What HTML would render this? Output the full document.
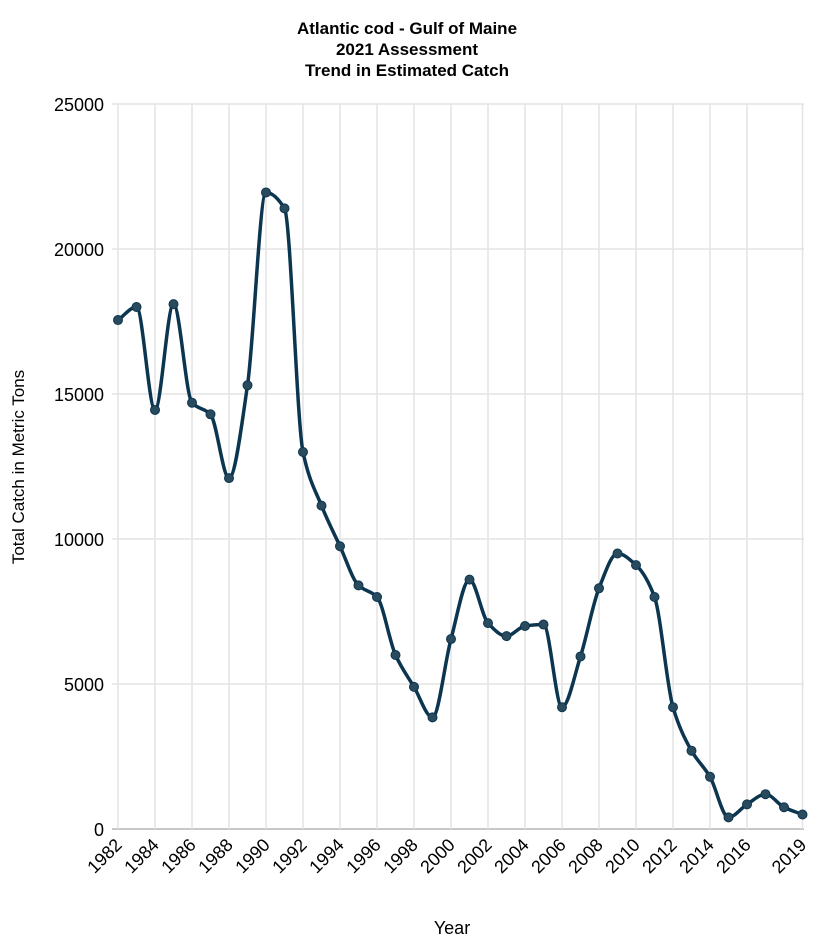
<!DOCTYPE html>
<html><head><meta charset="utf-8"><style>
body{margin:0;background:#fff;}
svg{display:block;font-family:"Liberation Sans",Arial,sans-serif;}
</style></head><body>
<svg id="s" width="813" height="947" xmlns="http://www.w3.org/2000/svg">
<text x="407" y="34" text-anchor="middle" font-size="17" font-weight="bold">Atlantic cod - Gulf of Maine</text>
<text x="407" y="55" text-anchor="middle" font-size="17" font-weight="bold">2021 Assessment</text>
<text x="407" y="76" text-anchor="middle" font-size="17" font-weight="bold">Trend in Estimated Catch</text>
<text x="452" y="934" text-anchor="middle" font-size="18">Year</text>
<text transform="translate(24,467) rotate(-90)" text-anchor="middle" font-size="17">Total Catch in Metric Tons</text>
<g id="g"></g>
</svg>
<script>
var s=document.getElementById('g'),h='';
var X0=118,DX=18.5,Y0=829,K=725/25000;
function X(y){return X0+(y-1982)*DX}function Y(v){return Y0-v*K}
for(var v=0;v<=25000;v+=5000){h+='<line x1="112" x2="804" y1="'+Y(v)+'" y2="'+Y(v)+'" stroke="'+(v?'#e3e3e3':'#c8c8c8')+'" stroke-width="'+(v?1.5:2)+'"/>';
h+='<text x="104" y="'+(Y(v)+7)+'" text-anchor="end" font-size="18">'+v+'</text>';}
var yrs=[];for(var y=1982;y<=2016;y+=2)yrs.push(y);yrs.push(2019);
yrs.forEach(function(y){h+='<line x1="'+X(y)+'" x2="'+X(y)+'" y1="104" y2="829" stroke="#e3e3e3" stroke-width="1.5"/>';
h+='<text transform="translate('+(X(y)+5)+',846) rotate(-45)" text-anchor="end" font-size="18">'+y+'</text>';});
var d=[17550,18000,14450,18100,14700,14300,12100,15300,21950,21400,13000,11150,9750,8400,8000,6000,4900,3850,6550,8600,7100,6650,7000,7050,4200,5950,8300,9500,9100,8000,4200,2700,1800,400,850,1200,750,500];
var p=d.map(function(v,i){return [X(1982+i),Y(v)]});
var n=p.length,dl=[],m=[];
for(var i=0;i<n-1;i++)dl.push((p[i+1][1]-p[i][1])/DX);
m[0]=dl[0];m[n-1]=dl[n-2];
for(var i=1;i<n-1;i++){if(dl[i-1]*dl[i]<=0)m[i]=0;else m[i]=2/(1/dl[i-1]+1/dl[i]);}
var path='M'+p[0][0]+','+p[0][1];
for(var i=0;i<n-1;i++){var b=p[i],c=p[i+1],hh=DX/3;
path+=' C'+(b[0]+hh)+','+(b[1]+m[i]*hh)+' '+(c[0]-hh)+','+(c[1]-m[i+1]*hh)+' '+c[0]+','+c[1];}
h+='<path d="'+path+'" fill="none" stroke="#0c3650" stroke-width="3.5"/>';
p.forEach(function(q){h+='<circle cx="'+q[0]+'" cy="'+q[1]+'" r="4.5" fill="#2a4a5e" stroke="#0c3650" stroke-width="1"/>';});
s.innerHTML=h;
</script>
</body></html>
